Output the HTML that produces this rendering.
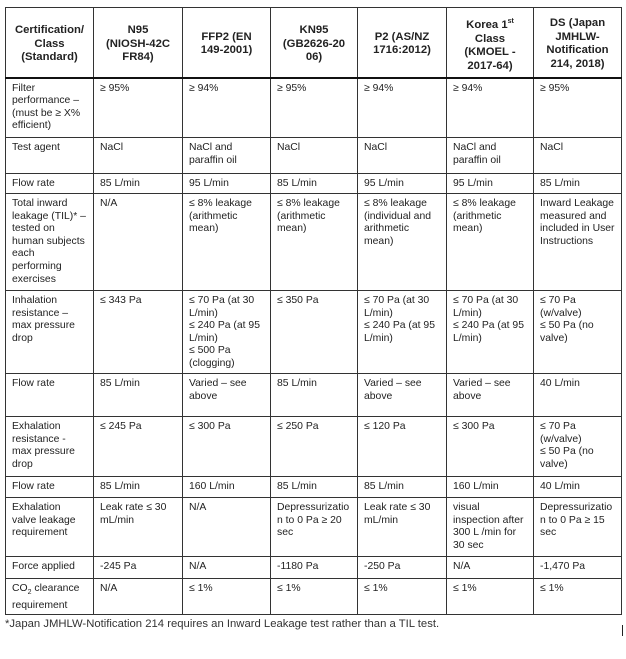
<!DOCTYPE html>
<html><head><meta charset="utf-8"><style>
body{margin:0;width:626px;height:659px;background:#fff;position:relative;overflow:hidden;font-family:"Liberation Sans",sans-serif;color:#222}
table{position:absolute;left:5px;top:7px;width:617px;border-collapse:collapse;table-layout:fixed}
td{border:1px solid #333;font-size:10.4px;line-height:12.6px;vertical-align:top;padding:4px 2px 0 6px;overflow:hidden;white-space:nowrap}
tr.h td{font-weight:bold;font-size:11.3px;line-height:13.5px;text-align:center;vertical-align:middle;padding:4px 2px 0 2px;border-bottom:2px solid #111}
.fn{position:absolute;left:5px;top:618px;font-size:11.3px;color:#333;white-space:nowrap}
.mk{position:absolute;left:622px;top:625px;width:1px;height:11px;background:#222}
</style></head><body>
<table>
<colgroup><col style="width:88px"><col style="width:89px"><col style="width:88px"><col style="width:87px"><col style="width:89px"><col style="width:87px"><col style="width:88px"></colgroup>
<tr class="h" style="height:70px"><td>Certification/<br>Class<br>(Standard)</td><td>N95<br>(NIOSH-42C<br>FR84)</td><td>FFP2 (EN<br>149-2001)</td><td>KN95<br>(GB2626-20<br>06)</td><td>P2 (AS/NZ<br>1716:2012)</td><td>Korea 1<sup style="font-size:7px">st</sup><br>Class<br>(KMOEL -<br>2017-64)</td><td>DS (Japan<br>JMHLW-<br>Notification<br>214, 2018)</td></tr>
<tr style="height:60px"><td>Filter<br>performance –<br>(must be ≥ X%<br>efficient)</td><td>≥ 95%</td><td>≥ 94%</td><td>≥ 95%</td><td>≥ 94%</td><td>≥ 94%</td><td>≥ 95%</td></tr>
<tr style="height:36px"><td>Test agent</td><td>NaCl</td><td>NaCl and<br>paraffin oil</td><td>NaCl</td><td>NaCl</td><td>NaCl and<br>paraffin oil</td><td>NaCl</td></tr>
<tr style="height:20px"><td>Flow rate</td><td>85 L/min</td><td>95 L/min</td><td>85 L/min</td><td>95 L/min</td><td>95 L/min</td><td>85 L/min</td></tr>
<tr style="height:97px"><td>Total inward<br>leakage (TIL)* –<br>tested on<br>human subjects<br>each<br>performing<br>exercises</td><td>N/A</td><td>≤ 8% leakage<br>(arithmetic<br>mean)</td><td>≤ 8% leakage<br>(arithmetic<br>mean)</td><td>≤ 8% leakage<br>(individual and<br>arithmetic<br>mean)</td><td>≤ 8% leakage<br>(arithmetic<br>mean)</td><td>Inward Leakage<br>measured and<br>included in User<br>Instructions</td></tr>
<tr style="height:83px"><td>Inhalation<br>resistance –<br>max pressure<br>drop</td><td>≤ 343 Pa</td><td>≤ 70 Pa (at 30<br>L/min)<br>≤ 240 Pa (at 95<br>L/min)<br>≤ 500 Pa<br>(clogging)</td><td>≤ 350 Pa</td><td>≤ 70 Pa (at 30<br>L/min)<br>≤ 240 Pa (at 95<br>L/min)</td><td>≤ 70 Pa (at 30<br>L/min)<br>≤ 240 Pa (at 95<br>L/min)</td><td>≤ 70 Pa<br>(w/valve)<br>≤ 50 Pa (no<br>valve)</td></tr>
<tr style="height:43px"><td>Flow rate</td><td>85 L/min</td><td>Varied – see<br>above</td><td>85 L/min</td><td>Varied – see<br>above</td><td>Varied – see<br>above</td><td>40 L/min</td></tr>
<tr style="height:60px"><td>Exhalation<br>resistance -<br>max pressure<br>drop</td><td>≤ 245 Pa</td><td>≤ 300 Pa</td><td>≤ 250 Pa</td><td>≤ 120 Pa</td><td>≤ 300 Pa</td><td>≤ 70 Pa<br>(w/valve)<br>≤ 50 Pa (no<br>valve)</td></tr>
<tr style="height:21px"><td>Flow rate</td><td>85 L/min</td><td>160 L/min</td><td>85 L/min</td><td>85 L/min</td><td>160 L/min</td><td>40 L/min</td></tr>
<tr style="height:59px"><td>Exhalation<br>valve leakage<br>requirement</td><td>Leak rate ≤ 30<br>mL/min</td><td>N/A</td><td>Depressurizatio<br>n to 0 Pa ≥ 20<br>sec</td><td>Leak rate ≤ 30<br>mL/min</td><td>visual<br>inspection after<br>300 L /min for<br>30 sec</td><td>Depressurizatio<br>n to 0 Pa ≥ 15<br>sec</td></tr>
<tr style="height:22px"><td>Force applied</td><td>-245 Pa</td><td>N/A</td><td>-1180 Pa</td><td>-250 Pa</td><td>N/A</td><td>-1,470 Pa</td></tr>
<tr style="height:36px"><td>CO<sub style="font-size:7px">2</sub> clearance<br>requirement</td><td>N/A</td><td>≤ 1%</td><td>≤ 1%</td><td>≤ 1%</td><td>≤ 1%</td><td>≤ 1%</td></tr>
</table>
<div class="fn">*Japan JMHLW-Notification 214 requires an Inward Leakage test rather than a TIL test.</div>
<div class="mk"></div>
</body></html>
